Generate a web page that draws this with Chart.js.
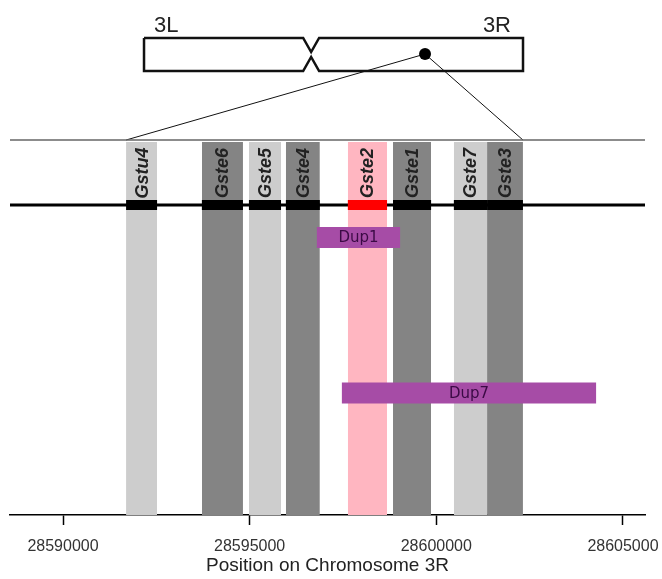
<!DOCTYPE html>
<html>
<head>
<meta charset="utf-8">
<script src="https://cdn.jsdelivr.net/npm/chart.js@4.4.1/dist/chart.umd.min.js"></script>
<style>
  html, body { margin: 0; padding: 0; background: #fff; }
</style>
</head>
<body>
<canvas id="gstChart" width="662" height="579"></canvas>
<script>
// Gst genes around the Gste cluster, positions in bp on 3R
const geneNames = ['Gstu4', 'Gste6', 'Gste5', 'Gste4', 'Gste2', 'Gste1', 'Gste7', 'Gste3'];
const geneStarts = [28591690, 28593720, 28594980, 28595970, 28597630, 28598840, 28600470, 28601360];
const geneEnds = [28592520, 28594820, 28595840, 28596880, 28598680, 28599860, 28601360, 28602320];
const geneShades = ['light', 'dark', 'light', 'dark', 'focus', 'dark', 'light', 'dark'];

// duplications
const dupNames = ['Dup1', 'Dup7'];
const dupStarts = [28596800, 28597470];
const dupEnds = [28599030, 28604280];

// chromosome 3 ideogram (Mb)
const armNames = ['3L', '3R'];
const armLengthsMb = [41.96, 53.2];
const focusMb = 28.6; // on 3R

const xTicks = [28590000, 28595000, 28600000, 28605000];

// vertical tracks (y axis runs top -> bottom)
const yTrack = {
  armLabel: 4.4, chromTop: 5.6, notchTop: 8.4, focus: 8.8, notchBottom: 9.4, chromBottom: 12.2,
  region: 26, bandTop: 26.4, geneLabel: 32.6, geneLine: 39, bottom: 101
};
const dupTrackY = [45.5, 76.6];

const bandColors = { light: '#cdcdcd', dark: '#848484', focus: '#ffb6c1' };
const blockColors = { light: '#000', dark: '#000', focus: '#ff0000' };
const xMin = 28588580, xMax = 28605590;

const datasets = [];

geneNames.forEach((name, i) => {
  const c = bandColors[geneShades[i]];
  datasets.push({
    label: name + ' band',
    data: [{ x: geneStarts[i], y: yTrack.bandTop }, { x: geneEnds[i], y: yTrack.bandTop }],
    borderWidth: 0, borderColor: c, backgroundColor: c,
    pointRadius: 0, fill: { value: yTrack.bottom }, order: 6
  });
});

datasets.push({
  label: 'region',
  data: [{ x: xMin, y: yTrack.region }, { x: xMax, y: yTrack.region }],
  borderWidth: 1.5, borderColor: '#666', pointRadius: 0, order: 5
});
datasets.push({
  label: 'chromosome',
  data: [{ x: xMin, y: yTrack.geneLine }, { x: xMax, y: yTrack.geneLine }],
  borderWidth: 3, borderColor: '#000', pointRadius: 0, order: 5
});

geneNames.forEach((name, i) => {
  datasets.push({
    label: name,
    data: [{ x: geneStarts[i], y: yTrack.geneLine }, { x: geneEnds[i], y: yTrack.geneLine }],
    borderWidth: 10, borderColor: blockColors[geneShades[i]], borderCapStyle: 'butt',
    pointRadius: 0, order: 4
  });
});

dupNames.forEach((name, i) => {
  datasets.push({
    label: name,
    data: [{ x: dupStarts[i], y: dupTrackY[i] }, { x: dupEnds[i], y: dupTrackY[i] }],
    borderWidth: 21, borderColor: '#a64ca6', borderCapStyle: 'butt',
    pointRadius: 0, order: 3
  });
});

// ideogram outline with centromere notch
const cen = armLengthsMb[0], total = armLengthsMb[0] + armLengthsMb[1], notch = 2;
datasets.push({
  label: 'ideogram',
  xAxisID: 'xc',
  data: [
    { x: 0, y: yTrack.chromTop }, { x: cen - notch, y: yTrack.chromTop }, { x: cen, y: yTrack.notchTop },
    { x: cen + notch, y: yTrack.chromTop }, { x: total, y: yTrack.chromTop }, { x: total, y: yTrack.chromBottom },
    { x: cen + notch, y: yTrack.chromBottom }, { x: cen, y: yTrack.notchBottom }, { x: cen - notch, y: yTrack.chromBottom },
    { x: 0, y: yTrack.chromBottom }, { x: 0, y: yTrack.chromTop }
  ],
  borderWidth: 2.5, borderColor: '#111', borderJoinStyle: 'miter', pointRadius: 0, fill: false, order: 2
});
datasets.push({
  label: 'focus',
  xAxisID: 'xc',
  data: [{ x: cen + focusMb, y: yTrack.focus }],
  showLine: false, pointRadius: 6, pointBackgroundColor: '#000', pointBorderWidth: 0, order: 1
});

const annotate = {
  id: 'annotate',
  beforeDatasetsDraw(chart) {
    const { ctx, scales: { x, xc, y } } = chart;
    const fx = xc.getPixelForValue(cen + focusMb), fy = y.getPixelForValue(yTrack.focus);
    ctx.save();
    ctx.strokeStyle = '#111';
    ctx.lineWidth = 1;
    [geneStarts[0], geneEnds[geneEnds.length - 1]].forEach(v => {
      ctx.beginPath();
      ctx.moveTo(fx, fy);
      ctx.lineTo(x.getPixelForValue(v), y.getPixelForValue(yTrack.region));
      ctx.stroke();
    });
    ctx.restore();
  },
  afterDatasetsDraw(chart) {
    const { ctx, scales: { x, xc, y } } = chart;
    ctx.save();
    // gene names, rotated
    ctx.fillStyle = '#222';
    ctx.font = 'italic bold 18px "Liberation Sans", Arial, sans-serif';
    ctx.textAlign = 'center';
    ctx.textBaseline = 'middle';
    geneNames.forEach((name, i) => {
      const cx = x.getPixelForValue((geneStarts[i] + geneEnds[i]) / 2);
      ctx.save();
      ctx.translate(cx, y.getPixelForValue(yTrack.geneLabel));
      ctx.rotate(-Math.PI / 2);
      ctx.fillText(name, 0, 1);
      ctx.restore();
    });
    // duplication names
    ctx.fillStyle = '#3b0a45';
    ctx.font = '15px "DejaVu Sans", sans-serif';
    dupNames.forEach((name, i) => {
      ctx.fillText(name, x.getPixelForValue((dupStarts[i] + dupEnds[i]) / 2), y.getPixelForValue(dupTrackY[i]) + 1);
    });
    // arm names
    ctx.fillStyle = '#222';
    ctx.font = '22px "Liberation Sans", Arial, sans-serif';
    ctx.textBaseline = 'alphabetic';
    ctx.textAlign = 'left';
    ctx.fillText(armNames[0], xc.getPixelForValue(0) + 10, y.getPixelForValue(yTrack.armLabel));
    ctx.textAlign = 'right';
    ctx.fillText(armNames[1], xc.getPixelForValue(total) - 12, y.getPixelForValue(yTrack.armLabel));
    ctx.restore();
  }
};

new Chart(document.getElementById('gstChart').getContext('2d'), {
  type: 'line',
  data: { datasets: datasets },
  plugins: [annotate],
  options: {
    responsive: false,
    animation: false,
    layout: { padding: { left: 10, right: 17, top: 10, bottom: 2 } },
    plugins: { legend: { display: false }, tooltip: { enabled: false } },
    scales: {
      x: {
        type: 'linear',
        position: 'bottom',
        min: xMin,
        max: xMax,
        afterBuildTicks: (scale) => { scale.ticks = xTicks.map(v => ({ value: v })); },
        afterFit: (scale) => {
          scale.height = 62;
          scale.paddingLeft = 0;
          scale.paddingRight = 0;
        },
        ticks: {
          callback: (v) => String(v),
          color: '#333',
          font: { size: 16, lineHeight: 1, family: '"Liberation Sans", Arial, sans-serif' },
          padding: 14,
          maxRotation: 0,
          autoSkip: false
        },
        grid: { display: true, drawOnChartArea: false, tickLength: 10, color: '#000', tickWidth: 1.5 },
        border: { display: true, color: '#000', width: 1.5 },
        title: {
          display: true,
          text: 'Position on Chromosome 3R',
          color: '#222',
          font: { size: 19, lineHeight: 1, family: '"Liberation Sans", Arial, sans-serif' },
          padding: { top: 1.5, bottom: 1.5 }
        }
      },
      xc: {
        type: 'linear',
        axis: 'x',
        display: false,
        min: -33.65,
        max: 125.79
      },
      y: {
        type: 'linear',
        display: false,
        reverse: true,
        min: 0,
        max: yTrack.bottom
      }
    }
  }
});
</script>
</body>
</html>
